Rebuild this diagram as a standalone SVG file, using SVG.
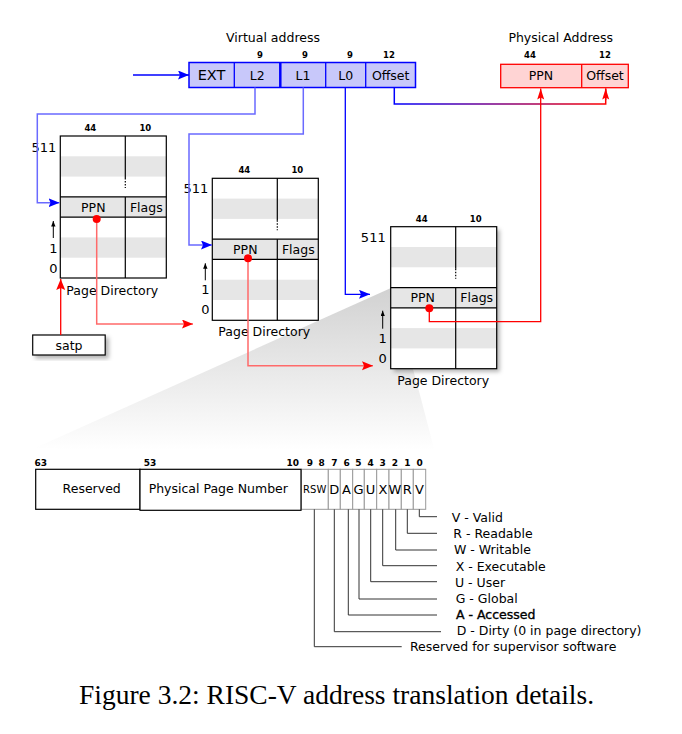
<svg xmlns="http://www.w3.org/2000/svg" width="682" height="734" viewBox="0 0 682 734">
<style>
text{font-family:"DejaVu Sans","Liberation Sans",sans-serif;fill:#000}
.t{font-size:12.5px}
.c{text-anchor:middle}
.bn{font-size:8.5px;font-weight:bold;text-anchor:middle}
.big{font-size:13px}
.pd{fill:#fff;stroke:none}
.band{fill:#e6e6e6;stroke:none}
.ln{stroke:#000;stroke-width:1.2;fill:none}
.leader{stroke:#333;stroke-width:1;fill:none}
.bit{fill:#fff;stroke:#999;stroke-width:1}
.bl{font-size:13px;text-anchor:middle}
</style>
<defs>
<marker id="aBlue" markerUnits="userSpaceOnUse" markerWidth="12" markerHeight="10" refX="11" refY="4.5" orient="auto"><path d="M0,0 L11,4.5 L0,9 L2,4.5 z" fill="#0000ff"/></marker>
<marker id="aRed" markerUnits="userSpaceOnUse" markerWidth="12" markerHeight="10" refX="11" refY="4.5" orient="auto"><path d="M0,0 L11,4.5 L0,9 L2,4.5 z" fill="#ff0000"/></marker>
<marker id="aRedN" markerUnits="userSpaceOnUse" markerWidth="12" markerHeight="8" refX="11" refY="3.5" orient="auto"><path d="M0,0 L11,3.5 L0,7 L2,3.5 z" fill="#ff0000"/></marker>
<marker id="aBlk" markerUnits="userSpaceOnUse" markerWidth="6" markerHeight="5" refX="5.5" refY="2.2" orient="auto"><path d="M0,0 L5.5,2.2 L0,4.4 z" fill="#000"/></marker>
<linearGradient id="wedge" gradientUnits="userSpaceOnUse" x1="0" y1="290" x2="0" y2="450">
<stop offset="0" stop-color="#d2d2d2"/><stop offset="1" stop-color="#ffffff"/>
</linearGradient>
<linearGradient id="offG" gradientUnits="userSpaceOnUse" x1="394" y1="0" x2="606" y2="0">
<stop offset="0" stop-color="#0000ff"/><stop offset="1" stop-color="#ff0000"/>
</linearGradient>
<filter id="sh" x="-20%" y="-20%" width="150%" height="150%">
<feDropShadow dx="3" dy="3" stdDeviation="2" flood-color="#000" flood-opacity="0.3"/>
</filter>
</defs>

<rect width="682" height="734" fill="#fff"/>

<!-- zoom wedge -->
<polygon points="391,288 420,395 437,460 35,448" fill="url(#wedge)"/>

<!-- Virtual address -->
<g id="virtual-address">
<text class="t c" x="273" y="41.5">Virtual address</text>
<text class="bn" x="260" y="58.3">9</text>
<text class="bn" x="305" y="58.3">9</text>
<text class="bn" x="350" y="58.3">9</text>
<text class="bn" x="389" y="58.3">12</text>
<rect x="189" y="62.5" width="226.5" height="25" fill="#c8c8fa" stroke="#0000ff" stroke-width="1.5"/>
<line x1="234.3" y1="62.5" x2="234.3" y2="87.5" stroke="#0000ff" stroke-width="1.3"/>
<line x1="280.3" y1="62.5" x2="280.3" y2="87.5" stroke="#0000ff" stroke-width="2.5"/>
<line x1="325.7" y1="62.5" x2="325.7" y2="87.5" stroke="#0000ff" stroke-width="1.3"/>
<line x1="365.7" y1="62.5" x2="365.7" y2="87.5" stroke="#0000ff" stroke-width="1.3"/>
<text x="211.5" y="80" style="font-size:14.5px" text-anchor="middle">EXT</text>
<text class="t c" x="257.3" y="80">L2</text>
<text class="t c" x="303" y="80">L1</text>
<text class="t c" x="345.7" y="80">L0</text>
<text class="t c" x="390.7" y="80">Offset</text>
</g>

<!-- Physical address -->
<g id="physical-address">
<text class="t c" x="560.7" y="41.5">Physical Address</text>
<text class="bn" x="530" y="58">44</text>
<text class="bn" x="605" y="58">12</text>
<rect x="500.7" y="64.3" width="127.6" height="23.4" fill="#ffd4d4" stroke="#ff0000" stroke-width="1.3"/>
<line x1="581.7" y1="64.3" x2="581.7" y2="87.7" stroke="#ff0000" stroke-width="1.3"/>
<text class="t c" x="541" y="80">PPN</text>
<text class="t c" x="605" y="80">Offset</text>
</g>

<!-- Page directory 1 -->
<g id="page-directory-1" transform="translate(60.3,136)">
<rect class="pd" x="0" y="0" width="106" height="142"/>
<rect class="band" x="0" y="20.3" width="106" height="20.3"/>
<rect class="band" x="0" y="60.9" width="106" height="20.2"/>
<rect class="band" x="0" y="101.4" width="106" height="20.3"/>
<rect class="ln" x="0" y="0" width="106" height="142"/>
<line class="ln" x1="0" y1="60.9" x2="106" y2="60.9"/>
<line class="ln" x1="0" y1="81.1" x2="106" y2="81.1"/>
<line class="ln" x1="65" y1="0" x2="65" y2="42"/>
<line class="ln" x1="65" y1="42" x2="65" y2="52" stroke-dasharray="1.5,1.5"/>
<line class="ln" x1="65" y1="60.9" x2="65" y2="142"/>
<text class="bn" x="30" y="-5">44</text>
<text class="bn" x="85" y="-5">10</text>
<text class="big" x="-4" y="15.5" text-anchor="end">511</text>
<text class="t c" x="33" y="75.5">PPN</text>
<text class="t c" x="86" y="75.5">Flags</text>
<line x1="-7" y1="102" x2="-7" y2="85" stroke="#000" stroke-width="1" marker-end="url(#aBlk)"/>
<text class="big c" x="-7" y="116.5">1</text>
<text class="big c" x="-7" y="136.5">0</text>
<text class="t c" x="52" y="158.5">Page Directory</text>
</g>

<!-- Page directory 2 -->
<g id="page-directory-2" transform="translate(212.3,178.3)">
<rect class="pd" x="0" y="0" width="106" height="142"/>
<rect class="band" x="0" y="20.3" width="106" height="20.3"/>
<rect class="band" x="0" y="60.9" width="106" height="20.2"/>
<rect class="band" x="0" y="101.4" width="106" height="20.3"/>
<rect class="ln" x="0" y="0" width="106" height="142"/>
<line class="ln" x1="0" y1="60.9" x2="106" y2="60.9"/>
<line class="ln" x1="0" y1="81.1" x2="106" y2="81.1"/>
<line class="ln" x1="65" y1="0" x2="65" y2="42"/>
<line class="ln" x1="65" y1="42" x2="65" y2="52" stroke-dasharray="1.5,1.5"/>
<line class="ln" x1="65" y1="60.9" x2="65" y2="142"/>
<text class="bn" x="32" y="-5">44</text>
<text class="bn" x="85" y="-5">10</text>
<text class="big" x="-4" y="14.5" text-anchor="end">511</text>
<text class="t c" x="33" y="75.5">PPN</text>
<text class="t c" x="86" y="75.5">Flags</text>
<line x1="-7" y1="102" x2="-7" y2="85" stroke="#000" stroke-width="1" marker-end="url(#aBlk)"/>
<text class="big c" x="-7" y="116">1</text>
<text class="big c" x="-7" y="136">0</text>
<text class="t c" x="52" y="158">Page Directory</text>
</g>

<!-- Page directory 3 -->
<g id="page-directory-3" transform="translate(390.7,226.7)">
<rect class="pd" x="0" y="0" width="106" height="142" filter="url(#sh)"/>
<rect class="band" x="0" y="20.3" width="106" height="20.3"/>
<rect class="band" x="0" y="60.9" width="106" height="20.2"/>
<rect class="band" x="0" y="101.4" width="106" height="20.3"/>
<rect class="ln" x="0" y="0" width="106" height="142"/>
<line class="ln" x1="0" y1="60.9" x2="106" y2="60.9"/>
<line class="ln" x1="0" y1="81.1" x2="106" y2="81.1"/>
<line class="ln" x1="65" y1="0" x2="65" y2="42"/>
<line class="ln" x1="65" y1="42" x2="65" y2="52" stroke-dasharray="1.5,1.5"/>
<line class="ln" x1="65" y1="60.9" x2="65" y2="142"/>
<text class="bn" x="31" y="-5">44</text>
<text class="bn" x="85" y="-5">10</text>
<text class="big" x="-5" y="15" text-anchor="end">511</text>
<text class="t c" x="32" y="75.5">PPN</text>
<text class="t c" x="86" y="75.5">Flags</text>
<line x1="-8" y1="102" x2="-8" y2="84" stroke="#000" stroke-width="1" marker-end="url(#aBlk)"/>
<text class="big c" x="-8" y="116.5">1</text>
<text class="big c" x="-8" y="136.5">0</text>
<text class="t c" x="52.5" y="158.5">Page Directory</text>
</g>

<!-- satp -->
<g id="satp">
<rect x="32.7" y="335" width="72.5" height="20" fill="#fff" stroke="#000" stroke-width="1.2" filter="url(#sh)"/>
<text class="t c" x="69" y="349.5">satp</text>
</g>

<!-- PTE format -->
<g id="pte-format">
<text class="bn" x="40.7" y="465.5" style="font-size:9px">63</text>
<text class="bn" x="150" y="465.5" style="font-size:9px">53</text>
<text class="bn" x="292.7" y="465.5" style="font-size:9px">10</text>
<text class="bn" x="310" y="465.5" style="font-size:9px">9</text>
<text class="bn" x="321.7" y="465.5" style="font-size:9px">8</text>
<text class="bn" x="334.3" y="465.5" style="font-size:9px">7</text>
<text class="bn" x="346.7" y="465.5" style="font-size:9px">6</text>
<text class="bn" x="358.3" y="465.5" style="font-size:9px">5</text>
<text class="bn" x="370.7" y="465.5" style="font-size:9px">4</text>
<text class="bn" x="382.7" y="465.5" style="font-size:9px">3</text>
<text class="bn" x="395" y="465.5" style="font-size:9px">2</text>
<text class="bn" x="407.3" y="465.5" style="font-size:9px">1</text>
<text class="bn" x="419.7" y="465.5" style="font-size:9px">0</text>
<rect x="301.3" y="469.3" width="27" height="40" class="bit"/>
<rect x="328.3" y="469.3" width="12" height="40" class="bit"/>
<rect x="340.3" y="469.3" width="12.4" height="40" class="bit"/>
<rect x="352.7" y="469.3" width="11.6" height="40" class="bit"/>
<rect x="364.3" y="469.3" width="12.4" height="40" class="bit"/>
<rect x="376.7" y="469.3" width="12.3" height="40" class="bit"/>
<rect x="389" y="469.3" width="12.3" height="40" class="bit"/>
<rect x="401.3" y="469.3" width="12" height="40" class="bit"/>
<rect x="413.3" y="469.3" width="12.4" height="40" class="bit"/>
<rect x="35.7" y="469.3" width="104.3" height="40" fill="#fff" stroke="#000" stroke-width="1.2"/>
<rect x="140" y="469.3" width="161" height="41" fill="#fff" stroke="#000" stroke-width="1.2"/>
<text class="t c" x="91.7" y="493">Reserved</text>
<text class="t c" x="218.3" y="493">Physical Page Number</text>
<text x="314.7" y="493" text-anchor="middle" style="font-size:10px">RSW</text>
<text class="bl" x="334.3" y="494">D</text>
<text class="bl" x="346.5" y="494">A</text>
<text class="bl" x="358.5" y="494">G</text>
<text class="bl" x="370.5" y="494">U</text>
<text class="bl" x="383" y="494">X</text>
<text class="bl" x="395" y="494">W</text>
<text class="bl" x="407.3" y="494">R</text>
<text class="bl" x="419.5" y="494">V</text>
</g>

<!-- legend -->
<g id="legend">
<path class="leader" d="M419.3,509.3 V516.7 H437"/>
<path class="leader" d="M407.3,509.3 V533.3 H437"/>
<path class="leader" d="M395.7,509.3 V550 H437"/>
<path class="leader" d="M382.7,509.3 V565.7 H437"/>
<path class="leader" d="M370.7,509.3 V581.7 H437"/>
<path class="leader" d="M359,509.3 V599 H437"/>
<path class="leader" d="M348.3,509.3 V615 H437"/>
<path class="leader" d="M334.3,509.3 V631.7 H441"/>
<path class="leader" d="M314.3,509.3 V646.7 H401.7"/>
<text class="t" x="451.7" y="522">V - Valid</text>
<text class="t" x="453.3" y="538">R  - Readable</text>
<text class="t" x="454" y="554">W - Writable</text>
<text class="t" x="455.7" y="570.5">X - Executable</text>
<text class="t" x="455" y="586.5">U - User</text>
<text class="t" x="455.7" y="602.5">G - Global</text>
<text class="t" x="456" y="619" style="stroke:#000;stroke-width:0.35">A - Accessed</text>
<text class="t" x="456.7" y="634.5">D - Dirty (0 in page directory)</text>
<text class="t" x="410" y="651">Reserved for supervisor software</text>
</g>

<!-- connectors -->
<g id="connectors" fill="none">
<line x1="133" y1="75" x2="189" y2="75" stroke="#0000ff" stroke-width="1.3" marker-end="url(#aBlue)"/>
<path d="M255,87.5 V114 H37.3 V202.7 H59.5" stroke="#6a6aff" stroke-width="1.5" marker-end="url(#aBlue)"/>
<path d="M303.3,87.5 V134 H189 V245 H212" stroke="#6a6aff" stroke-width="1.5" marker-end="url(#aBlue)"/>
<path d="M345.3,87.5 V294.3 H370" stroke="#0000ff" stroke-width="1.3" marker-end="url(#aBlue)"/>
<path d="M394.3,87.5 V104 H605.7 V88.5" stroke="url(#offG)" stroke-width="1.5"/>
<path d="M605.7,100 V88.5" stroke="#ff0000" stroke-width="1.3" marker-end="url(#aRedN)"/>
<path d="M429.3,308.3 V321.7 H540.7 V88.5" stroke="#ff0000" stroke-width="1.3" marker-end="url(#aRedN)"/>
<path d="M96.7,219 V324 H193" stroke="#ff6a6a" stroke-width="1.5" marker-end="url(#aRed)"/>
<path d="M248,258.3 V365.7 H373" stroke="#ff6a6a" stroke-width="1.5" marker-end="url(#aRed)"/>
<path d="M60.7,335 V279" stroke="#ff0000" stroke-width="1.3" marker-end="url(#aRed)"/>
<circle cx="96.7" cy="219" r="4" fill="#ff0000"/>
<circle cx="248" cy="258.3" r="4" fill="#ff0000"/>
<circle cx="429.3" cy="308.3" r="4" fill="#ff0000"/>
</g>

<text x="79" y="704" style="font-family:'Liberation Serif','Times New Roman',serif;font-size:27.5px">Figure 3.2: RISC-V address translation details.</text>
</svg>
